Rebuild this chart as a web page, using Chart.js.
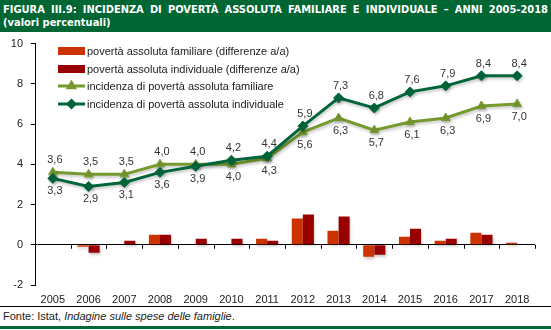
<!DOCTYPE html>
<html>
<head>
<meta charset="utf-8">
<script src="https://cdn.jsdelivr.net/npm/chart.js@4/dist/chart.umd.min.js"></script>
<style>
    body { margin: 0; background: #fff; width: 551px; height: 330px; overflow: hidden; font-family: "Liberation Sans", Arial, sans-serif; }
    #title {
        background: #006633; color: #fff; height: 32px; box-sizing: border-box;
        padding: 3px 3px 0 3px; font-family: "Liberation Sans Narrow", "DejaVu Sans Condensed", sans-serif;
        font-weight: bold; font-size: 11px; line-height: 13px;
    }
    #title .l1 { white-space: nowrap; text-align: justify; text-align-last: justify; }
    #wrap { position: relative; width: 551px; height: 276px; margin-top: -3px; }
    #footer {
        border-top: 1px solid #000; border-bottom: 3px solid #006633; height: 19px;
        font-size: 11px; color: #222; padding-left: 3px; line-height: 19px; margin-top: 1px;
    }
</style>
</head>
<body>
<div id="title"><div class="l1">FIGURA III.9: INCIDENZA DI POVERTÀ ASSOLUTA FAMILIARE E INDIVIDUALE – ANNI 2005-2018</div><div>(valori percentuali)</div></div>
<div id="wrap"><canvas id="povertaChart"></canvas></div>
<div id="footer">Fonte: Istat, <i>Indagine sulle spese delle famiglie</i>.</div>
<script>
const YEARS = ['2005', '2006', '2007', '2008', '2009', '2010', '2011', '2012', '2013', '2014', '2015', '2016', '2017', '2018'];

// differenze anno su anno (barre)
const FAM_DIFF = [null, -0.1, 0.0, 0.5, 0.0, 0.0, 0.3, 1.3, 0.7, -0.6, 0.4, 0.2, 0.6, 0.1];
const IND_DIFF = [null, -0.4, 0.2, 0.5, 0.3, 0.3, 0.2, 1.5, 1.4, -0.5, 0.8, 0.3, 0.5, 0.0];

// incidenza (linee)
const FAM_INC = [3.6, 3.5, 3.5, 4.0, 4.0, 4.0, 4.3, 5.6, 6.3, 5.7, 6.1, 6.3, 6.9, 7.0];
const IND_INC = [3.3, 2.9, 3.1, 3.6, 3.9, 4.2, 4.4, 5.9, 7.3, 6.8, 7.6, 7.9, 8.4, 8.4];

const LABELS = [
    'povertà assoluta familiare (differenze a/a)',
    'povertà assoluta individuale (differenze a/a)',
    'incidenza di povertà assoluta familiare',
    'incidenza di povertà assoluta individuale'
];

const Y_MIN = -2, Y_MAX = 10, Y_STEP = 2;

const C_FAM_BAR = '#cc3300';
const C_IND_BAR = '#990000';
const C_FAM_LINE = '#779a2e';
const C_IND_LINE = '#00663a';

function fmt(v) {
    return v.toFixed(1).replace('.', ',');
}

// ombra leggera sotto barre e linee
const shadowPlugin = {
    id: 'shadow',
    beforeDatasetDraw(chart) {
        const ctx = chart.ctx;
        ctx.save();
        ctx.shadowColor = 'rgba(0,0,0,0.22)';
        ctx.shadowBlur = 3;
        ctx.shadowOffsetX = 1;
        ctx.shadowOffsetY = 2;
    },
    afterDatasetDraw(chart) {
        chart.ctx.restore();
    }
};

// tacche dell'asse x sulla linea dello zero
const zeroTicks = {
    id: 'zeroTicks',
    afterDraw(chart) {
        const ctx = chart.ctx;
        const x = chart.scales.x, y = chart.scales.y;
        const y0 = y.getPixelForValue(0);
        const step = (x.right - x.left) / YEARS.length;
        ctx.save();
        ctx.strokeStyle = '#000';
        ctx.lineWidth = 1;
        ctx.beginPath();
        for (let i = 0; i <= YEARS.length; i++) {
            const px = Math.round(x.left + i * step) + 0.5;
            ctx.moveTo(px, y0);
            ctx.lineTo(px, y0 + 4);
        }
        ctx.stroke();
        ctx.restore();
    }
};

// etichette dei valori: sopra la serie più alta, sotto la più bassa
const valueLabels = {
    id: 'valueLabels',
    afterDatasetsDraw(chart) {
        const ctx = chart.ctx;
        ctx.save();
        ctx.font = '11px "Liberation Sans", Arial, sans-serif';
        ctx.fillStyle = '#333';
        ctx.textAlign = 'center';
        ctx.textBaseline = 'middle';
        const series = [[2, FAM_INC, IND_INC], [3, IND_INC, FAM_INC]];
        for (const [idx, own, other] of series) {
            const meta = chart.getDatasetMeta(idx);
            meta.data.forEach((pt, i) => {
                const above = own[i] >= other[i] && !(own[i] === other[i] && idx === 3);
                const dy = above ? -12 : 13;
                ctx.fillText(fmt(own[i]), pt.x + 2, pt.y + dy);
            });
        }
        ctx.restore();
    }
};

// legenda dentro l'area del grafico
const innerLegend = {
    id: 'innerLegend',
    afterDraw(chart) {
        const ctx = chart.ctx;
        const sets = chart.data.datasets;
        const x0 = 58, rows = [22, 40, 57, 75];
        ctx.save();
        ctx.font = '11px "Liberation Sans", Arial, sans-serif';
        ctx.textBaseline = 'middle';
        sets.forEach((ds, i) => {
            const yy = rows[i];
            if (ds.type === 'line') {
                ctx.strokeStyle = ds.borderColor;
                ctx.lineWidth = 3;
                ctx.beginPath();
                ctx.moveTo(x0, yy);
                ctx.lineTo(x0 + 27, yy);
                ctx.stroke();
                ctx.fillStyle = ds.borderColor;
                Chart.helpers.drawPoint(ctx, {pointStyle: ds.pointStyle, radius: 3.5, rotation: 0, borderWidth: 1}, x0 + 13.5, yy);
            } else {
                ctx.fillStyle = ds.backgroundColor;
                ctx.fillRect(x0, yy - 4, 27, 8);
            }
            ctx.fillStyle = '#222';
            ctx.fillText(ds.label, x0 + 29, yy + 1);
        });
        ctx.restore();
    }
};

const config = {
    type: 'bar',
    data: {
        labels: YEARS,
        datasets: [
            { type: 'bar', label: LABELS[0], data: FAM_DIFF, backgroundColor: C_FAM_BAR, order: 2,
              barPercentage: 1.0, categoryPercentage: 0.62 },
            { type: 'bar', label: LABELS[1], data: IND_DIFF, backgroundColor: C_IND_BAR, order: 2,
              barPercentage: 1.0, categoryPercentage: 0.62 },
            { type: 'line', label: LABELS[2], data: FAM_INC, borderColor: C_FAM_LINE, backgroundColor: C_FAM_LINE,
              borderWidth: 3, tension: 0, pointStyle: 'triangle', pointRadius: 5, pointBorderWidth: 1, order: 1 },
            { type: 'line', label: LABELS[3], data: IND_INC, borderColor: C_IND_LINE, backgroundColor: C_IND_LINE,
              borderWidth: 3, tension: 0, pointStyle: 'rectRot', pointRadius: 5, pointBorderWidth: 1, order: 0 }
        ]
    },
    options: {
        responsive: true,
        maintainAspectRatio: false,
        animation: false,
        layout: { padding: { top: 0, right: 16, bottom: 0, left: 0 } },
        plugins: {
            legend: { display: false },
            tooltip: { enabled: false }
        },
        scales: {
            x: {
                afterFit(scale) { scale.height = 20; },
                grid: { display: false },
                border: { display: false },
                ticks: { color: '#222', font: { size: 11, family: '"Liberation Sans", Arial, sans-serif' }, padding: 0, maxRotation: 0 }
            },
            y: {
                min: Y_MIN,
                max: Y_MAX,
                afterFit(scale) { scale.width = 35; },
                ticks: { stepSize: Y_STEP, color: '#222', font: { size: 11, family: '"Liberation Sans", Arial, sans-serif' }, padding: 8 },
                border: { display: true, color: '#000', width: 1 },
                grid: {
                    color: ctx => (ctx.tick && ctx.tick.value === 0) ? '#000' : 'rgba(0,0,0,0)',
                    tickColor: '#000',
                    tickLength: 4
                }
            }
        }
    },
    plugins: [shadowPlugin, zeroTicks, valueLabels, innerLegend]
};

new Chart('povertaChart', config);
</script>
</body>
</html>
